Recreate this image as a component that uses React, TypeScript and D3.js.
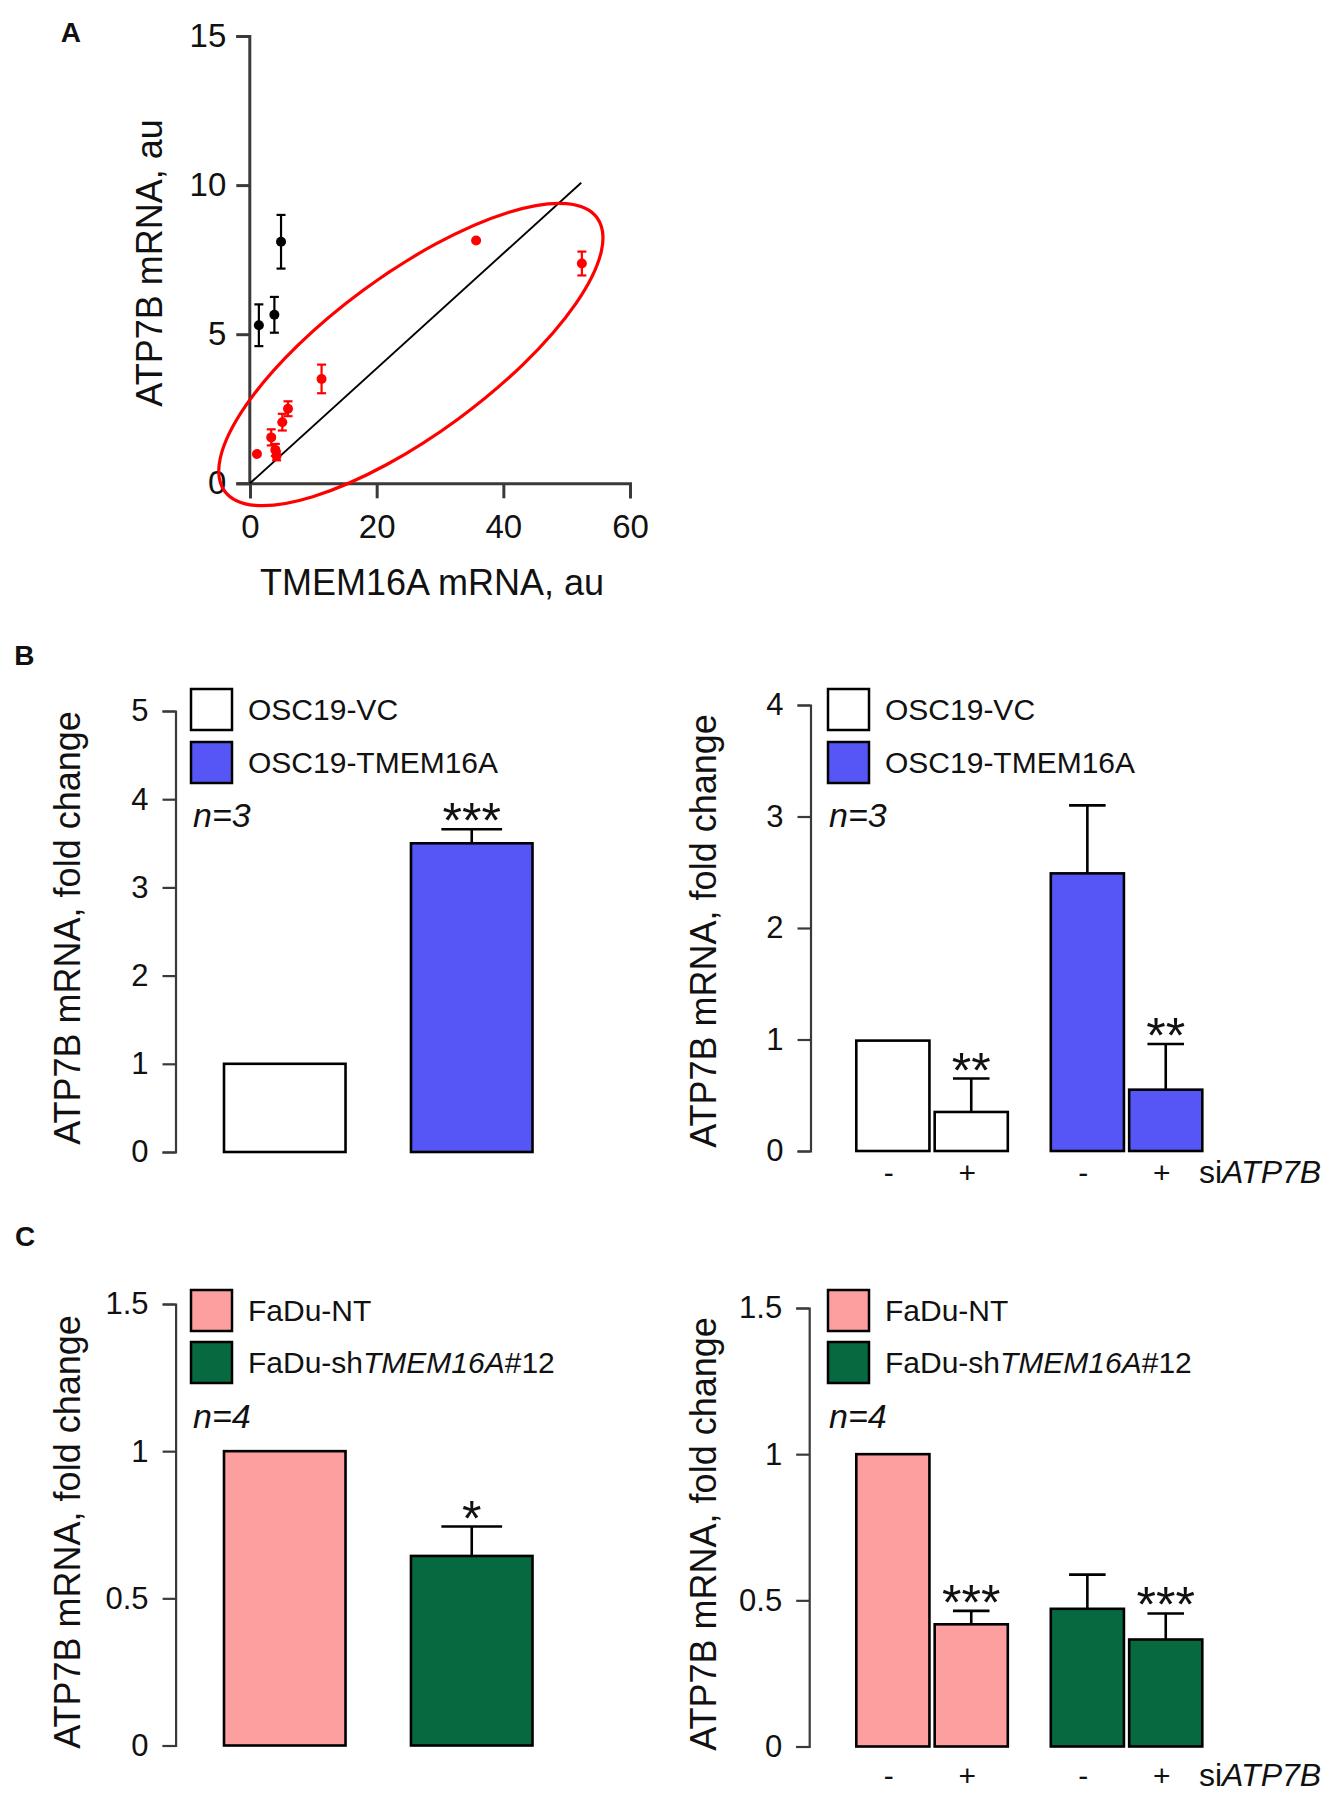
import React, { useEffect, useRef } from 'react';
import * as d3 from 'd3';

const FONT = "'Liberation Sans', Arial, Helvetica, sans-serif";
const TEXT = '#111111';
const AXIS = '#3a3a3a';

// ---------- Panel A: scatter ----------
const scatterBlackX = [1.4, 3.85, 4.9];
const scatterBlackY = [5.3, 5.65, 8.1];
const scatterBlackErr = [0.7, 0.6, 0.9];
const scatterRedX = [1.1, 3.35, 4.0, 4.2, 5.1, 6.0, 11.3, 35.7, 52.4];
const scatterRedY = [0.98, 1.54, 1.12, 0.92, 2.05, 2.5, 3.5, 8.14, 7.37];
const scatterRedErr = [0, 0.27, 0.2, 0.15, 0.28, 0.25, 0.48, 0, 0.4];
const fitLineX = [0, 52.3];
const fitLineY = [0, 10.08];
const ellipseCenter = [25.4, 4.32];
const scatterXTicks = [0, 20, 40, 60];
const scatterYTicks = [0, 5, 10, 15];

// ---------- Panel B ----------
const bLeftCategories = ['OSC19-VC', 'OSC19-TMEM16A'];
const bLeftValues = [1.0, 3.5];
const bLeftErrors = [0, 0.16];
const bLeftStars = ['', '***'];
const bLeftTicks = [0, 1, 2, 3, 4, 5];

const groups = ['VC', 'TMEM16A'];
const siLevels = ['-', '+'];
const bRightValues = [[0.99, 0.35], [2.49, 0.55]];
const bRightErrors = [[0, 0.3], [0.61, 0.41]];
const bRightStars = [['', '**'], ['', '**']];
const bRightTicks = [0, 1, 2, 3, 4];

// ---------- Panel C ----------
const cLeftCategories = ['FaDu-NT', 'FaDu-shTMEM16A#12'];
const cLeftValues = [1.0, 0.644];
const cLeftErrors = [0, 0.1];
const cLeftStars = ['', '*'];
const cTicks = [0, 0.5, 1, 1.5];
const cRightValues = [[1.0, 0.418], [0.471, 0.366]];
const cRightErrors = [[0, 0.046], [0.117, 0.089]];
const cRightStars = [['', '***'], ['', '***']];

const BLUE = '#5656F6';
const WHITE = '#FFFFFF';
const PINK = '#FD9F9F';
const GREEN = '#066940';

function Axis({ orient, scale, ticks, at, tickSize, padding, fontSize, sw, fmt }: any) {
  const ref = useRef<SVGGElement>(null);
  useEffect(() => {
    const g = d3.select(ref.current as SVGGElement);
    const axis = (orient === 'left' ? d3.axisLeft(scale) : d3.axisBottom(scale))
      .tickValues(ticks)
      .tickSize(tickSize)
      .tickSizeOuter(tickSize)
      .tickPadding(padding)
      .tickFormat(fmt || ((d: any) => String(d)));
    g.call(axis as any);
    g.attr('font-size', fontSize).attr('font-family', FONT).attr('color', AXIS);
    g.select('.domain').attr('stroke-width', sw);
    g.selectAll('.tick line').attr('stroke-width', sw);
    g.selectAll('.tick text').attr('fill', TEXT).attr('font-size', fontSize);
  }, []);
  const t = orient === 'left' ? `translate(${at},0)` : `translate(0,${at})`;
  return <g ref={ref} transform={t} />;
}

function ErrBar({ cx, yTop, yVal, half }: any) {
  return (
    <g stroke="#000" strokeWidth={2.6}>
      <line x1={cx} x2={cx} y1={yVal} y2={yTop} />
      <line x1={cx - half} x2={cx + half} y1={yTop} y2={yTop} />
    </g>
  );
}

function Stars({ cx, y, text }: any) {
  return (
    <text x={cx} y={y + 9} textAnchor="middle" fontSize={50} fontFamily={FONT} fill={TEXT}>
      {text}
    </text>
  );
}

function Legend({ x, y1, y2, c1, c2, l1, l2, size }: any) {
  const fs = 30;
  return (
    <g fontFamily={FONT} fontSize={fs} fill={TEXT}>
      <rect x={x} y={y1} width={41} height={size} fill={c1} stroke="#000" strokeWidth={2.5} />
      <rect x={x} y={y2} width={41} height={size} fill={c2} stroke="#000" strokeWidth={2.5} />
      <text x={x + 57} y={y1 + size / 2 + fs * 0.36}>{l1}</text>
      <text x={x + 57} y={y2 + size / 2 + fs * 0.36}>{l2}</text>
    </g>
  );
}

function YTitle({ x, y, text }: any) {
  return (
    <text transform={`translate(${x},${y}) rotate(-90)`} textAnchor="middle" fontSize={36} fontFamily={FONT} fill={TEXT}>
      {text}
    </text>
  );
}

function PanelA() {
  const x = d3.scaleLinear().domain([0, 60]).range([250, 630]);
  const y = d3.scaleLinear().domain([0, 15]).range([483.3, 36]);
  const line = d3.line<number>().x((d) => x(fitLineX[d])).y((d) => y(fitLineY[d]));
  const cx = x(ellipseCenter[0]);
  const cy = y(ellipseCenter[1]);
  const pts = (xs: number[], ys: number[], es: number[], color: string) =>
    xs.map((xv, i) => {
      const px = x(xv);
      return (
        <g key={color + i}>
          {es[i] > 0 && (
            <g stroke={color} strokeWidth={2.2}>
              <line x1={px} x2={px} y1={y(ys[i] - es[i])} y2={y(ys[i] + es[i])} />
              <line x1={px - 4.5} x2={px + 4.5} y1={y(ys[i] + es[i])} y2={y(ys[i] + es[i])} />
              <line x1={px - 4.5} x2={px + 4.5} y1={y(ys[i] - es[i])} y2={y(ys[i] - es[i])} />
            </g>
          )}
          <circle cx={px} cy={y(ys[i])} r={5} fill={color} />
        </g>
      );
    });
  return (
    <g>
      <text x={60.7} y={41.7} fontSize={28} fontWeight="bold" fontFamily={FONT} fill={TEXT}>A</text>
      <Axis orient="left" scale={y} ticks={scatterYTicks} at={249.3} tickSize={13} padding={10} fontSize={33} sw={3} />
      <Axis orient="bottom" scale={x} ticks={scatterXTicks} at={483.3} tickSize={15} padding={16} fontSize={33} sw={3} />
      <path d={line([0, 1]) || ''} stroke="#000" strokeWidth={1.9} fill="none" />
      {pts(scatterBlackX, scatterBlackY, scatterBlackErr, '#000')}
      {pts(scatterRedX, scatterRedY, scatterRedErr, '#F00')}
      <ellipse cx={cx} cy={cy} rx={231} ry={80} transform={`rotate(-36.3,${cx},${cy})`} fill="none" stroke="#F00" strokeWidth={3.2} />
      <YTitle x={162.4} y={263} text="ATP7B mRNA, au" />
      <text x={432} y={595} textAnchor="middle" fontSize={36} fontFamily={FONT} fill={TEXT}>TMEM16A mRNA, au</text>
    </g>
  );
}

function SimpleBars({ axisX, y, ticks, cats, values, errors, stars, colors, fmt }: any) {
  const band = d3.scaleBand<string>().domain(cats).range([224, 532.5]).paddingInner(0.35).paddingOuter(0);
  const bw = band.bandwidth();
  return (
    <g>
      <Axis orient="left" scale={y} ticks={ticks} at={axisX} tickSize={13} padding={14} fontSize={31} sw={2.2} fmt={fmt} />
      {cats.map((c: string, i: number) => {
        const bx = band(c) as number;
        const cx = bx + bw / 2;
        const top = y(values[i] + errors[i]);
        return (
          <g key={c}>
            {errors[i] > 0 && <ErrBar cx={cx} yTop={top} yVal={y(values[i])} half={bw / 4} />}
            <rect x={bx} y={y(values[i])} width={bw} height={y(0) - y(values[i])} fill={colors[i]} stroke="#000" strokeWidth={2.6} />
            {stars[i] && <Stars cx={cx} y={top} text={stars[i]} />}
          </g>
        );
      })}
    </g>
  );
}

function GroupedBars({ axisX, y, ticks, values, errors, stars, colors, labelY, fmt }: any) {
  const outer = d3.scaleBand<string>().domain(groups).range([856.3, 1202.3]).paddingInner(0.221).paddingOuter(0);
  const inner = d3.scaleBand<string>().domain(siLevels).range([0, outer.bandwidth()]).paddingInner(0.067).paddingOuter(0);
  const bw = inner.bandwidth();
  return (
    <g>
      <Axis orient="left" scale={y} ticks={ticks} at={axisX} tickSize={13} padding={14} fontSize={31} sw={2.2} fmt={fmt} />
      {groups.map((g: string, gi: number) =>
        siLevels.map((s: string, si: number) => {
          const bx = (outer(g) as number) + (inner(s) as number);
          const cx = bx + bw / 2;
          const v = values[gi][si];
          const e = errors[gi][si];
          const top = y(v + e);
          return (
            <g key={g + s}>
              {e > 0 && <ErrBar cx={cx} yTop={top} yVal={y(v)} half={bw / 4} />}
              <rect x={bx} y={y(v)} width={bw} height={y(0) - y(v)} fill={colors[gi]} stroke="#000" strokeWidth={2.6} />
              {stars[gi][si] && <Stars cx={cx} y={top} text={stars[gi][si]} />}
              <text x={cx - 4} y={labelY} textAnchor="middle" fontSize={30} fontFamily={FONT} fill={TEXT}>{s}</text>
            </g>
          );
        })
      )}
      <text x={1199} y={labelY} fontSize={32} fontFamily={FONT} fill={TEXT}>
        si<tspan fontStyle="italic">ATP7B</tspan>
      </text>
    </g>
  );
}

function NLabel({ x, y, text }: any) {
  return (
    <text x={x} y={y} fontSize={34} fontStyle="italic" fontFamily={FONT} fill={TEXT}>{text}</text>
  );
}

export default function App() {
  const yBL = d3.scaleLinear().domain([0, 5]).range([1152, 711]);
  const yBR = d3.scaleLinear().domain([0, 4]).range([1151, 705]);
  const yCL = d3.scaleLinear().domain([0, 1.5]).range([1745.5, 1304]);
  const yCR = d3.scaleLinear().domain([0, 1.5]).range([1746.5, 1308]);
  const fmtC = (d: number) => String(d);
  const shLabel = (
    <>
      FaDu-sh<tspan fontStyle="italic">TMEM16A</tspan>#12
    </>
  );
  return (
    <svg width={1344} height={1800} style={{ position: 'absolute', left: 0, top: 0, background: '#fff' }}>
      <rect width={1344} height={1800} fill="#fff" />
      <PanelA />

      {/* Panel B */}
      <text x={14.3} y={665} fontSize={28} fontWeight="bold" fontFamily={FONT} fill={TEXT}>B</text>
      <SimpleBars axisX={175.5} y={yBL} ticks={bLeftTicks} cats={bLeftCategories} values={bLeftValues} errors={bLeftErrors} stars={bLeftStars} colors={[WHITE, BLUE]} />
      <Legend x={191} y1={689} y2={742} size={41} c1={WHITE} c2={BLUE} l1={bLeftCategories[0]} l2={bLeftCategories[1]} />
      <NLabel x={193} y={827} text="n=3" />
      <YTitle x={80} y={928} text="ATP7B mRNA, fold change" />

      <GroupedBars axisX={810.5} y={yBR} ticks={bRightTicks} values={bRightValues} errors={bRightErrors} stars={bRightStars} colors={[WHITE, BLUE]} labelY={1183} />
      <Legend x={828} y1={689} y2={742} size={41} c1={WHITE} c2={BLUE} l1={bLeftCategories[0]} l2={bLeftCategories[1]} />
      <NLabel x={829} y={827} text="n=3" />
      <YTitle x={716} y={931} text="ATP7B mRNA, fold change" />

      {/* Panel C */}
      <text x={15} y={1246} fontSize={28} fontWeight="bold" fontFamily={FONT} fill={TEXT}>C</text>
      <SimpleBars axisX={175.6} y={yCL} ticks={cTicks} cats={cLeftCategories} values={cLeftValues} errors={cLeftErrors} stars={cLeftStars} colors={[PINK, GREEN]} fmt={fmtC} />
      <Legend x={191} y1={1290} y2={1342} size={41} c1={PINK} c2={GREEN} l1={cLeftCategories[0]} l2={shLabel} />
      <NLabel x={193} y={1428} text="n=4" />
      <YTitle x={80} y={1532} text="ATP7B mRNA, fold change" />

      <GroupedBars axisX={809.2} y={yCR} ticks={cTicks} values={cRightValues} errors={cRightErrors} stars={cRightStars} colors={[PINK, GREEN]} labelY={1786} fmt={fmtC} />
      <Legend x={828} y1={1290} y2={1342} size={41} c1={PINK} c2={GREEN} l1={cLeftCategories[0]} l2={shLabel} />
      <NLabel x={829} y={1428} text="n=4" />
      <YTitle x={716} y={1534} text="ATP7B mRNA, fold change" />
    </svg>
  );
}
